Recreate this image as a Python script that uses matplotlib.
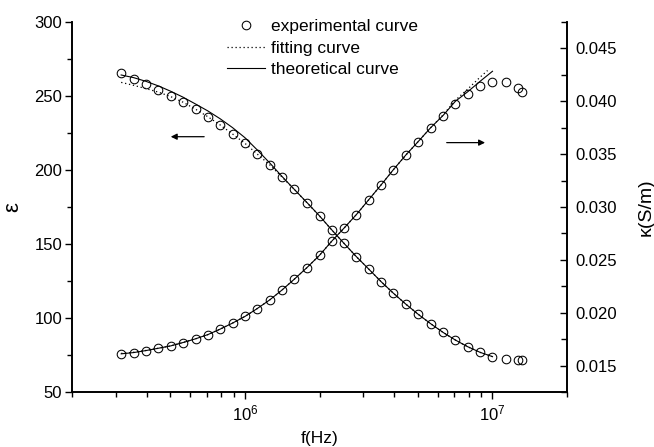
import matplotlib
matplotlib.use('Agg')
import matplotlib.pyplot as plt
from matplotlib.ticker import FixedLocator, MultipleLocator, NullFormatter, FormatStrFormatter, LogLocator

plt.rcParams['font.family'] = ['Liberation Sans', 'DejaVu Sans']
plt.rcParams['mathtext.fontset'] = 'custom'
plt.rcParams['mathtext.rm'] = 'Liberation Sans'
plt.rcParams['mathtext.it'] = 'Liberation Sans:italic'

# ---- data ----
freq = [3.16e5, 3.55e5, 3.98e5, 4.47e5, 5.01e5, 5.62e5, 6.31e5, 7.08e5, 7.94e5, 8.91e5,
        1.00e6, 1.12e6, 1.26e6, 1.41e6, 1.58e6, 1.78e6, 2.00e6, 2.24e6, 2.51e6, 2.82e6,
        3.16e6, 3.55e6, 3.98e6, 4.47e6, 5.01e6, 5.62e6, 6.31e6, 7.08e6, 7.94e6, 8.91e6,
        1.00e7, 1.13e7, 1.265e7, 1.31e7]

eps_exp = [265.3, 261.5, 257.9, 253.9, 249.8, 245.8, 241.0, 236.0, 230.4, 224.3,
           218.0, 210.8, 203.4, 195.3, 187.0, 177.9, 168.9, 159.5, 150.5, 141.4,
           133.1, 124.5, 116.7, 109.3, 102.5, 96.2, 90.3, 85.1, 80.6, 76.8,
           73.9, 72.1, 71.6, 71.6]

kappa_exp = [0.01611, 0.01623, 0.01642, 0.01664, 0.01686, 0.01718, 0.01753, 0.01793, 0.01845, 0.01902,
             0.01965, 0.02039, 0.02122, 0.02214, 0.02316, 0.02427, 0.02543, 0.02676, 0.02799, 0.02929,
             0.03068, 0.03210, 0.03354, 0.03493, 0.03619, 0.03749, 0.03865, 0.03976, 0.04070, 0.04140,
             0.04180, 0.04187, 0.04123, 0.04086]

line_freq = [3.16e5, 3.55e5, 3.98e5, 4.47e5, 5.01e5, 5.62e5, 6.31e5, 7.08e5, 7.94e5, 8.91e5,
             1.00e6, 1.12e6, 1.26e6, 1.41e6, 1.58e6, 1.78e6, 2.00e6, 2.24e6, 2.51e6, 2.82e6,
             3.16e6, 3.55e6, 3.98e6, 4.47e6, 5.01e6, 5.62e6, 6.31e6, 7.08e6, 7.94e6, 8.91e6,
             1.00e7]

eps_theory = [264.2, 262.4, 259.9, 256.8, 253.2, 249.2, 244.6, 239.9, 234.6, 228.6,
              221.8, 213.6, 204.7, 195.7, 187.0, 178.0, 169.0, 159.6, 150.5, 141.4,
              133.1, 124.5, 116.7, 109.3, 102.5, 96.2, 90.3, 85.1, 80.6, 76.8,
              73.9]

eps_fit = [259.2, 257.2, 255.0, 252.6, 249.6, 245.8, 241.1, 236.0, 230.4, 224.3,
           218.0, 210.8, 203.4, 195.3, 187.0, 177.9, 168.9, 159.5, 150.5, 141.4,
           133.1, 124.5, 116.7, 109.3, 102.5, 96.2, 90.3, 85.1, 80.6, 76.8,
           73.9]

kappa_theory = [0.01611, 0.01623, 0.01642, 0.01664, 0.01686, 0.01718, 0.01753, 0.01793, 0.01845, 0.01902,
                0.01965, 0.02039, 0.02122, 0.02214, 0.02316, 0.02427, 0.02543, 0.02676, 0.02799, 0.02929,
                0.03068, 0.03210, 0.03354, 0.03493, 0.03619, 0.03749, 0.03865, 0.04000, 0.04090, 0.04189,
                0.04284]

kappa_fit_freq = [3.16e5, 3.55e5, 3.98e5, 4.47e5, 5.01e5, 5.62e5, 6.31e5, 7.08e5, 7.94e5, 8.91e5,
                  1.00e6, 1.12e6, 1.26e6, 1.41e6, 1.58e6, 1.78e6, 2.00e6, 2.24e6, 2.51e6, 2.82e6,
                  3.16e6, 3.55e6, 3.98e6, 4.47e6, 5.01e6, 5.62e6, 6.31e6, 7.08e6, 7.94e6, 8.91e6,
                  9.55e6]
kappa_fit = [0.01615, 0.01626, 0.01643, 0.01664, 0.01687, 0.01718, 0.01753, 0.01793, 0.01845, 0.01902,
             0.01965, 0.02039, 0.02122, 0.02214, 0.02316, 0.02427, 0.02543, 0.02676, 0.02799, 0.02929,
             0.03068, 0.03210, 0.03354, 0.03493, 0.03619, 0.03749, 0.03870, 0.04010, 0.04115, 0.04228,
             0.04291]

left_ticks = [50, 100, 150, 200, 250, 300]
right_ticks = [0.015, 0.020, 0.025, 0.030, 0.035, 0.040, 0.045]
x_ticks = [1e6, 1e7]
x_ticklabels = ['$10^{6}$', '$10^{7}$']

labels = ['experimental curve', 'fitting curve', 'theoretical curve']

# ---- figure ----
fig = plt.figure(figsize=(6.54, 4.47), dpi=100)
ax = fig.add_axes([72 / 654, 1 - 392 / 447, 495 / 654, 370 / 447])
ax2 = ax.twinx()

mk = dict(marker='o', ms=6.2, mfc='none', mec='black', mew=0.75, ls='none')
h_exp, = ax.plot(freq, eps_exp, **mk)
h_fit, = ax.plot(line_freq, eps_fit, color='black', ls=(0, (1, 2.2)), lw=0.9)
h_th, = ax.plot(line_freq, eps_theory, color='black', ls='-', lw=0.8)

ax2.plot(freq, kappa_exp, **mk)
ax2.plot(kappa_fit_freq, kappa_fit, color='black', ls=(0, (1, 2.2)), lw=0.9)
ax2.plot(line_freq, kappa_theory, color='black', ls='-', lw=0.8)

ax.set_xscale('log')
ax.set_xlim(2e5, 2e7)
ax.set_ylim(50, 300)
ax2.set_ylim(0.0125, 0.0475)

ax.xaxis.set_major_locator(FixedLocator(x_ticks))
ax.set_xticklabels(x_ticklabels)
ax.xaxis.set_minor_locator(LogLocator(base=10, subs=[2, 3, 4, 5, 6, 7, 8, 9], numticks=20))
ax.xaxis.set_minor_formatter(NullFormatter())

ax.yaxis.set_major_locator(FixedLocator(left_ticks))
ax.yaxis.set_minor_locator(MultipleLocator(25))
ax2.yaxis.set_major_locator(FixedLocator(right_ticks))
ax2.yaxis.set_minor_locator(MultipleLocator(0.0025))
ax2.yaxis.set_major_formatter(FormatStrFormatter('%.3f'))

for a in (ax, ax2):
    a.spines['top'].set_visible(False)
    for s in a.spines.values():
        s.set_linewidth(1.2)

ax.tick_params(axis='x', which='major', direction='out', length=5, width=1.0, labelsize=12, pad=3)
ax.tick_params(axis='x', which='minor', direction='out', length=3.5, width=1.0)
ax.tick_params(axis='y', which='major', direction='out', length=5, width=1.0, labelsize=12, pad=2)
ax.tick_params(axis='y', which='minor', direction='out', length=3.5, width=1.0)
ax2.tick_params(axis='y', which='major', direction='in', length=5, width=1.0, labelsize=12, pad=6)
ax2.tick_params(axis='y', which='minor', direction='in', length=4, width=1.0)

ax.set_xlabel('f(Hz)', fontsize=12.5, labelpad=6)
ax.set_ylabel('ε', fontsize=16, labelpad=8)
ax2.set_ylabel('κ(S/m)', fontsize=14, labelpad=15)

# arrows
ax.annotate('', xy=(10 ** 5.70, 222.5), xytext=(10 ** 5.835, 222.5),
            arrowprops=dict(arrowstyle='-|>', color='black', lw=0.9, mutation_scale=9, shrinkA=0, shrinkB=0))
ax.annotate('', xy=(10 ** 6.97, 218.5), xytext=(10 ** 6.815, 218.5),
            arrowprops=dict(arrowstyle='-|>', color='black', lw=0.9, mutation_scale=9, shrinkA=0, shrinkB=0))

ax.legend([h_exp, h_fit, h_th], labels, loc='upper left', bbox_to_anchor=(227 / 654, 1 - 19 / 447),
          bbox_transform=fig.transFigure, frameon=False, fontsize=12.5, handlelength=2.2,
          handletextpad=0.35, labelspacing=0.37, borderpad=0, borderaxespad=0)

fig.savefig('out.png', dpi=100)
